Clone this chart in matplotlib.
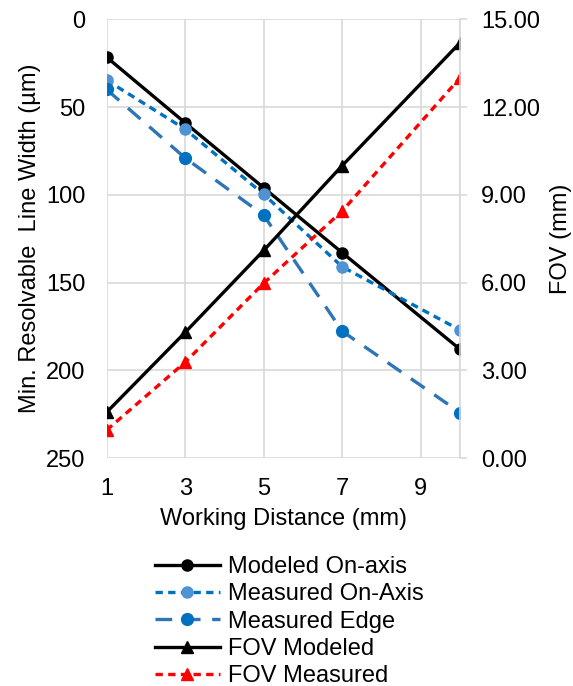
import matplotlib.pyplot as plt
from matplotlib.ticker import FormatStrFormatter

plt.rcParams['font.family'] = ['Liberation Sans', 'DejaVu Sans']

# ---------------- DATA ----------------
distance = [1, 3, 5, 7, 10]
modeled_on_axis = [21.6, 59, 96, 133, 188]
measured_on_axis = [34.7, 62.6, 99.7, 141, 177]
measured_edge = [40, 79, 111.6, 177.7, 224]
fov_modeled = [1.57, 4.3, 7.1, 10.0, 14.2]
fov_measured = [0.96, 3.28, 5.98, 8.45, 13.0]

x_ticks = [1, 3, 5, 7, 9, 10]
x_labels = ["1", "3", "5", "7", "9", ""]
left_ticks = [0, 50, 100, 150, 200, 250]
right_ticks = [0, 3, 6, 9, 12, 15]

grid_color = "#D9D9D9"
fs = 17

# ---------------- FIGURE ----------------
fig = plt.figure(figsize=(5.73, 6.86), dpi=100)
ax = fig.add_axes([0.186, 0.332, 0.617, 0.640])
ax2 = ax.twinx()

h1, = ax.plot(distance, modeled_on_axis, color="black", lw=2.4,
              marker="o", ms=8, label="Modeled On-axis")
h2, = ax.plot(distance, measured_on_axis, color="#0070C0", lw=2.4,
              ls=(0, (2.2, 1.6)), marker="o", ms=8, mfc="#4F93D3",
              mec="#4F93D3", label="Measured On-Axis")
h3, = ax.plot(distance, measured_edge, color="#2E75B6", lw=2.4,
              ls=(0, (5, 3.5)), marker="o", ms=8.5, mfc="#0070C0",
              mec="#0070C0", label="Measured Edge")
h4, = ax2.plot(distance, fov_modeled, color="black", lw=2.4,
               marker="^", ms=8.5, label="FOV Modeled")
h5, = ax2.plot(distance, fov_measured, color="#FF0000", lw=2.4,
               ls=(0, (2.2, 1.6)), marker="^", ms=8.5, label="FOV Measured")

# ---------------- AXES ----------------
ax.set_xlim(1, 10)
ax.set_ylim(250, 0)
ax2.set_ylim(0, 15)
ax.set_xticks(x_ticks)
ax.set_xticklabels(x_labels)
ax.set_yticks(left_ticks)
ax2.set_yticks(right_ticks)
ax2.yaxis.set_major_formatter(FormatStrFormatter("%.2f"))

ax.grid(True, color=grid_color, lw=1.2)
ax.set_axisbelow(True)

for a in (ax, ax2):
    for s in a.spines.values():
        s.set_visible(False)
ax2.spines["right"].set_visible(True)
ax2.spines["right"].set_color(grid_color)
ax2.spines["right"].set_linewidth(1.2)

ax.tick_params(axis="y", length=0, labelsize=fs, pad=15)
ax.tick_params(axis="x", length=0, labelsize=fs, pad=14)
ax2.tick_params(axis="y", length=5, color=grid_color, width=1.2,
                labelsize=fs, pad=10)

ax.set_xlabel("Working Distance (mm)", fontsize=fs, labelpad=6)
ax.set_ylabel("Min. Resolvable  Line Width (\u00b5m)", fontsize=fs, labelpad=4)
ax2.set_ylabel("FOV (mm)", fontsize=fs, labelpad=7)

fig.legend(handles=[h1, h2, h3, h4, h5], loc="upper center",
           bbox_to_anchor=(0.505, 0.203), frameon=False, fontsize=fs,
           handlelength=2.75, handletextpad=0.35, labelspacing=0.22,
           borderaxespad=0)

fig.savefig("out.png", dpi=100)
